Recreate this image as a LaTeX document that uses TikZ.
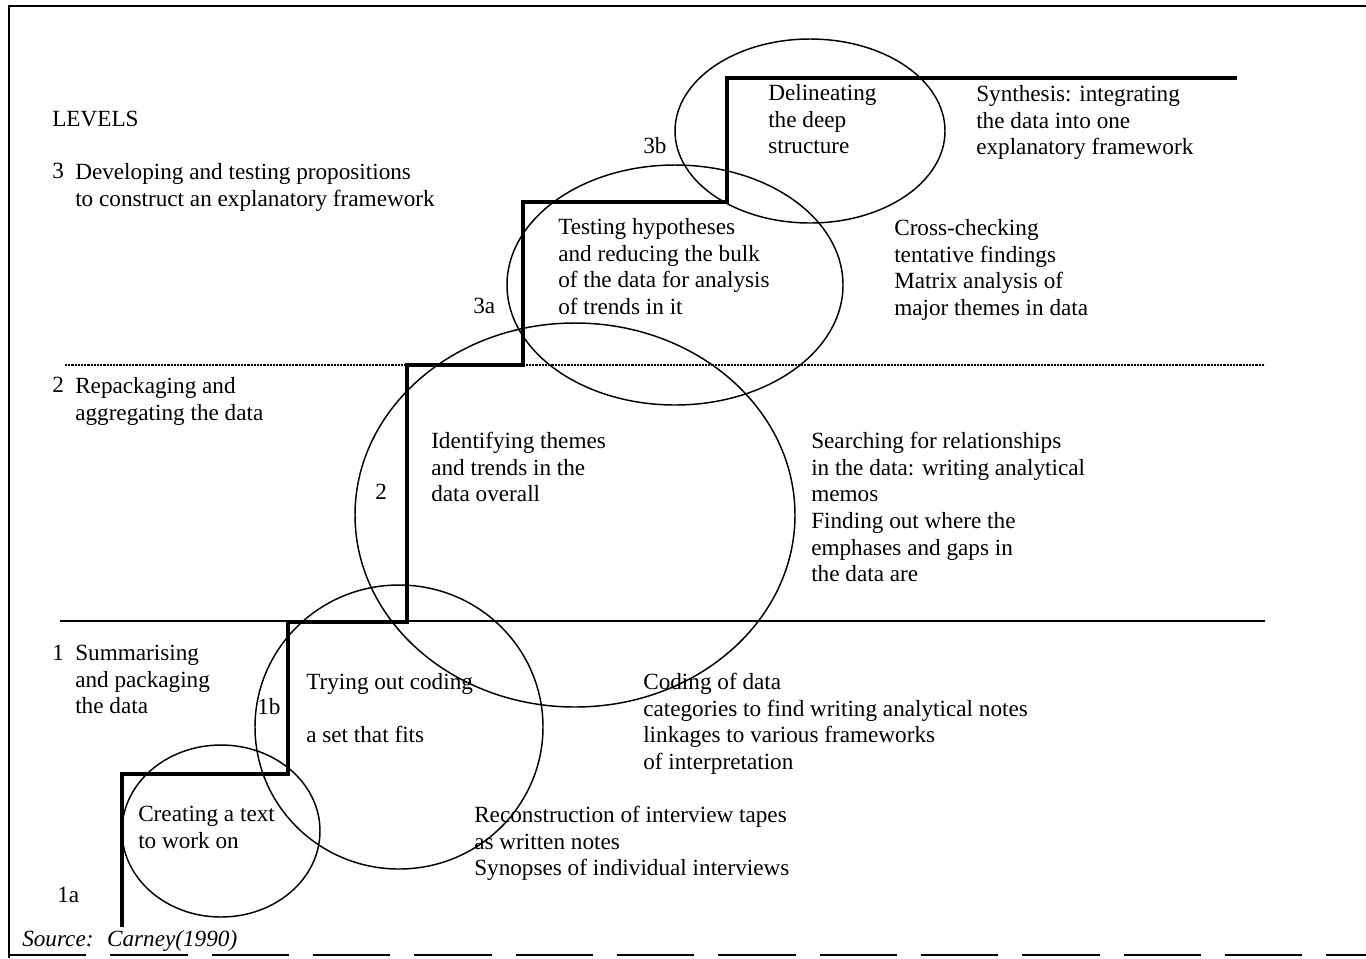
\documentclass[tikz,border=0pt]{standalone}
\usepackage{fontspec}
\setmainfont{Liberation Serif}
\usetikzlibrary{positioning}
\tikzset{
    stair/.style={line width=2.6pt, line join=miter},
    ring/.style={line width=1.1pt},
    levelline/.style={line width=1.4pt},
    dotline/.style={line width=1.4pt, dash pattern=on 1.6pt off 0.8pt},
    frameline/.style={line width=1.5pt},
    txt/.style={anchor=north west, inner sep=0pt, align=left, font=\fontsize{17.4}{20}\selectfont},
    tag/.style={txt}
}

\begin{document}
\begin{tikzpicture}[x=0.75pt, y=-0.75pt]
    \useasboundingbox (0,0) rectangle (1366,958);

    % frame
    \draw[frameline] (1366,6) -- (9,6) -- (9,958);
    \draw[frameline, dash pattern=on 58pt off 18pt] (9,955) -- (1366,955);

    % level boundaries
    \draw[levelline] (60,621) -- (1265,621);
    \draw[dotline] (65,365) -- (1265,365);

    % circles of the stages
    \coordinate (c1a) at (221,831);
    \coordinate (c1b) at (399,727);
    \coordinate (c2)  at (575,515);
    \coordinate (c3a) at (675,285);
    \coordinate (c3b) at (810,131);
    \draw[ring] (c1a) ellipse [x radius=99, y radius=86];
    \draw[ring] (c1b) ellipse [x radius=144, y radius=142];
    \draw[ring] (c2)  ellipse [x radius=220, y radius=192];
    \draw[ring] (c3a) ellipse [x radius=168, y radius=120];
    \draw[ring] (c3b) ellipse [x radius=135, y radius=92];

    % the staircase
    \coordinate (st0) at (122,927);
    \coordinate (st1) at (288,774);
    \coordinate (st2) at (407,622);
    \coordinate (st3) at (523,365);
    \coordinate (st4) at (727,202);
    \coordinate (st5) at (1237,78);
    \draw[stair] (st0) |- (st1) |- (st2) |- (st3) |- (st4) |- (st5);

    % levels
    \node[txt] (levels) at (52,111) {LEVELS};
    \node[txt] (n3) at (52,163) {3};
    \node[txt] (lev3) at (75,163) {Developing and testing propositions\\to construct an explanatory framework};
    \node[txt] (n2) at (52,377) {2};
    \node[txt] (lev2) at (75,377) {Repackaging and\\aggregating the data};
    \node[txt] (n1) at (52,645) {1};
    \node[txt] (lev1) at (75,645) {Summarising\\and packaging\\the data};

    % step tags
    \node[tag] (t1a) at (57,887) {1a};
    \node[tag] (t1b) at (257,698) {1b};
    \node[tag] (t2)  at (375,484) {2};
    \node[tag] (t3a) at (473,298) {3a};
    \node[tag] (t3b) at (643,137) {3b};

    % inside the circles
    \node[txt] (in1a) at (138,806) {Creating a text\\to work on};
    \node[txt] (in1b) at (306,673) {Trying out coding\\[20pt]a set that fits};
    \node[txt] (in2)  at (431,432) {Identifying themes\\and trends in the\\data overall};
    \node[txt] (in3a) at (558,218) {Testing hypotheses\\and reducing the bulk\\of the data for analysis\\of trends in it};
    \node[txt] (in3b) at (768,84)  {Delineating\\the deep\\structure};

    % activities
    \node[txt] (do3b) at (976,85)  {Synthesis: integrating\\the data into one\\explanatory framework};
    \node[txt] (do3a) at (894,219) {Cross-checking\\tentative findings\\Matrix analysis of\\major themes in data};
    \node[txt] (do2)  at (811,432) {Searching for relationships\\in the data: writing analytical\\memos\\Finding out where the\\emphases and gaps in\\the data are};
    \node[txt] (do1b) at (643,673) {Coding of data\\categories to find writing analytical notes\\linkages to various frameworks\\of interpretation};
    \node[txt] (do1a) at (474,806) {Reconstruction of interview tapes\\as written notes\\Synopses of individual interviews};

    \node[txt, font=\fontsize{17.4}{20}\selectfont\itshape] (src) at (22,930) {Source:~ Carney(1990)};
\end{tikzpicture}
\end{document}
